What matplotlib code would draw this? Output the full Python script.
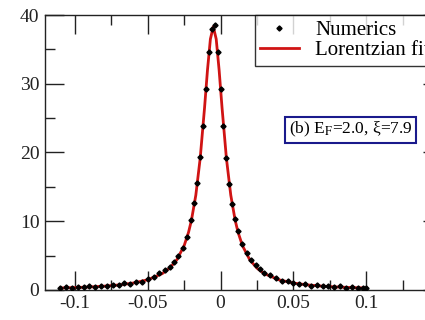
import matplotlib
matplotlib.use("Agg")
import matplotlib.pyplot as plt
from matplotlib.ticker import MultipleLocator, FuncFormatter

plt.rcParams['font.family'] = ['Liberation Serif', 'DejaVu Serif']
plt.rcParams['mathtext.fontset'] = 'stix'

# Numerics
x_num = [-0.11, -0.106, -0.102, -0.098, -0.094, -0.09, -0.086, -0.082, -0.078, -0.074,
         -0.07, -0.066, -0.062, -0.058, -0.054, -0.05, -0.046, -0.042, -0.038, -0.035,
         -0.032, -0.029, -0.026, -0.023, -0.020, -0.018, -0.016, -0.014, -0.012, -0.010,
         -0.008, -0.006, -0.004, -0.002, 0.000, 0.002, 0.004, 0.006, 0.008, 0.010,
         0.012, 0.015, 0.018, 0.021, 0.024, 0.027, 0.030, 0.034, 0.038, 0.042,
         0.046, 0.050, 0.054, 0.058, 0.062, 0.066, 0.070, 0.074, 0.078, 0.082,
         0.086, 0.090, 0.094, 0.098, 0.1]
y_num = [0.35, 0.40, 0.30, 0.45, 0.38, 0.55, 0.42, 0.60, 0.50, 0.75,
         0.68, 0.95, 0.85, 1.20, 1.15, 1.60, 1.90, 2.40, 2.90, 3.40,
         4.10, 4.90, 6.10, 7.70, 10.2, 12.6, 15.5, 19.3, 23.9, 29.3,
         34.6, 37.9, 38.5, 34.6, 29.3, 23.8, 19.2, 15.4, 12.5, 10.3,
         8.60, 6.70, 5.40, 4.40, 3.60, 3.00, 2.50, 2.10, 1.70, 1.35,
         1.30, 1.05, 0.80, 0.85, 0.60, 0.70, 0.50, 0.60, 0.40, 0.50,
         0.35, 0.45, 0.30, 0.35, 0.25]

# Lorentzian fit
x_fit = [-0.11, -0.1, -0.09, -0.08, -0.07, -0.06, -0.05, -0.04, -0.035, -0.03,
         -0.025, -0.022, -0.02, -0.017, -0.014, -0.011, -0.009, -0.007, -0.005, -0.003,
         -0.001, 0.001, 0.004, 0.007, 0.01, 0.012, 0.015, 0.02, 0.025, 0.03,
         0.04, 0.05, 0.06, 0.07, 0.08, 0.09, 0.1]
y_fit = [0.279, 0.341, 0.425, 0.544, 0.720, 0.999, 1.473, 2.376, 3.163, 4.394,
         6.450, 8.385, 10.14, 13.79, 19.15, 26.52, 31.98, 36.50, 38.30, 36.50,
         31.98, 26.52, 19.15, 13.79, 10.14, 8.385, 6.450, 4.394, 3.163, 2.376,
         1.473, 0.999, 0.720, 0.544, 0.425, 0.341, 0.279]

fig = plt.figure(figsize=(4.25, 3.2), dpi=100)
ax = fig.add_axes([0.106, 0.094, 0.934, 0.859])

ax.plot(x_fit, y_fit, color='#d01414', lw=2.0, label='Lorentzian fit', zorder=2)
ax.plot(x_num, y_num, ls='none', marker='D', ms=2.6, color='black', label='Numerics', zorder=3)

ax.set_xlim(-0.1205, 0.152)
ax.set_ylim(0, 40)

ax.xaxis.set_major_locator(MultipleLocator(0.05))
ax.xaxis.set_minor_locator(MultipleLocator(0.025))
ax.yaxis.set_major_locator(MultipleLocator(10))
ax.yaxis.set_minor_locator(MultipleLocator(5))
# la etiqueta 0.15 queda fuera del recorte
ax.xaxis.set_major_formatter(FuncFormatter(lambda v, p: '' if v > 0.12 else '{:g}'.format(round(v, 3))))

ax.tick_params(which='both', direction='in', top=True, right=True, labelsize=14,
               colors='#222222', width=1)
ax.tick_params(which='major', length=14, pad=4)
ax.tick_params(which='minor', length=7)
for s in ax.spines.values():
    s.set_linewidth(1)
    s.set_color('#222222')

h, l = ax.get_legend_handles_labels()
leg = ax.legend(h[::-1], l[::-1], loc='upper left', bbox_to_anchor=(255 / 425, 1 - 15 / 320),
                bbox_transform=fig.transFigure, fontsize=15, frameon=True, fancybox=False,
                edgecolor='black', borderaxespad=0, borderpad=0.25, labelspacing=0.05,
                handlelength=1.85, handletextpad=0.8, markerscale=1.0)
leg.get_frame().set_linewidth(1)

ax.text(0.0894, 23.3, r'(b) E$_\mathrm{F}$=2.0, ξ=7.9', fontsize=12.5, ha='center', va='center',
        bbox=dict(facecolor='white', edgecolor='#1a1a8c', lw=1.5, boxstyle='square,pad=0.2'))

fig.savefig('out.png', dpi=100)
